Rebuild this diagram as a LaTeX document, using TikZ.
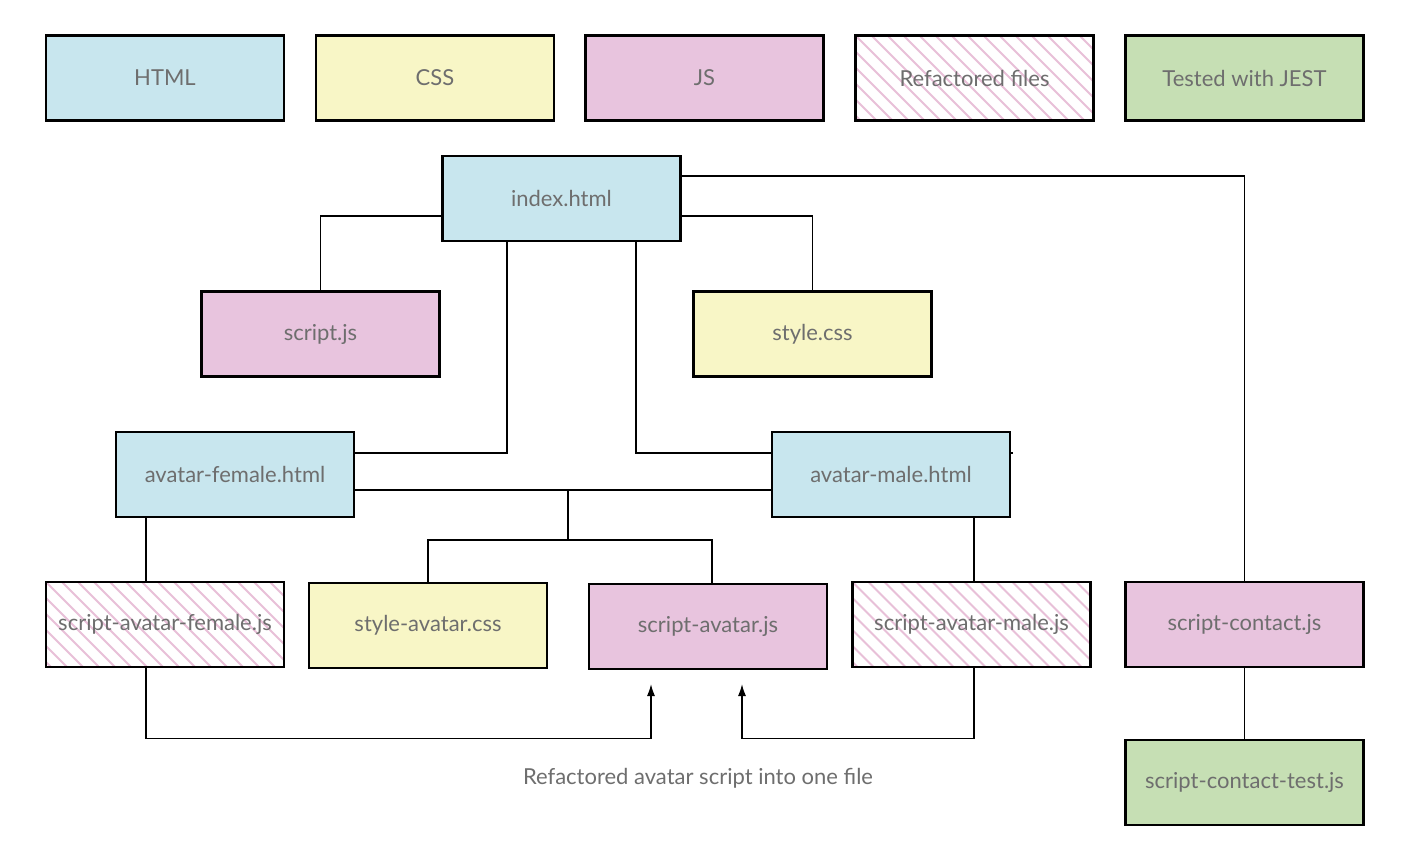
\documentclass[tikz,border=0pt]{standalone}
\usepackage{fontspec}
\setmainfont{Lato}
\usetikzlibrary{arrows.meta,backgrounds}
\definecolor{htmlc}{HTML}{C8E6EE}
\definecolor{cssc}{HTML}{F8F6C6}
\definecolor{jsc}{HTML}{E8C4DE}
\definecolor{testc}{HTML}{C6DFB4}
\definecolor{hatchc}{HTML}{E8C0D8}
\definecolor{txtc}{HTML}{6E6E6E}
\tikzset{
  filebox/.style={draw=black,line width=1.25pt,minimum width=119pt,minimum height=42.5pt,
    inner sep=0pt,text=txtc,font=\fontsize{11}{13}\selectfont},
  htmlbox/.style={filebox,fill=htmlc},
  cssbox/.style={filebox,fill=cssc},
  jsbox/.style={filebox,fill=jsc},
  testbox/.style={filebox,fill=testc},
  hatchbox/.style={filebox,fill=white,path picture={
    \foreach \k in {-6,...,15}{
      \draw[hatchc,line width=1pt] ([xshift=\k*8pt]path picture bounding box.north west) -- ++(45pt,-45pt);}}},
  conn/.style={draw=black,line width=0.75pt},
  arr/.style={conn,-{Latex[length=6pt,width=4pt]}},
}
\begin{document}
\begin{tikzpicture}[x=0.5pt,y=-0.5pt]
\useasboundingbox (0,0) rectangle (1408,862);
% legend
\node[htmlbox] (lhtml) at (165,78) {HTML};
\node[cssbox] (lcss) at (435,78) {CSS};
\node[jsbox] (ljs) at (704.5,78) {JS};
\node[hatchbox] (lref) at (974.5,78) {Refactored files};
\node[testbox] (ltest) at (1244.5,78) {Tested with JEST};
% files
\node[htmlbox] (index) at (561.5,198.5) {index.html};
\node[jsbox] (scriptjs) at (320.5,334) {script.js};
\node[cssbox] (stylecss) at (812.5,334) {style.css};
\node[htmlbox] (female) at (235,474.5) {avatar-female.html};
\node[htmlbox] (male) at (891,474.5) {avatar-male.html};
\node[hatchbox] (safem) at (165,624.5) {script-avatar-female.js};
\node[cssbox] (styleav) at (428,625.5) {style-avatar.css};
\node[jsbox] (scriptav) at (708,626.5) {script-avatar.js};
\node[hatchbox] (samale) at (971.5,624.5) {script-avatar-male.js};
\node[jsbox] (contact) at (1244.5,624.5) {script-contact.js};
\node[testbox] (ctest) at (1244.5,782.5) {script-contact-test.js};
\node[text=txtc,font=\fontsize{11}{13}\selectfont] (note) at (698,778) {Refactored avatar script into one file};
\coordinate (j) at (568,490);
\coordinate (j1) at (568,540);
\coordinate (a1) at (651,684);
\coordinate (a2) at (742,684);
\begin{scope}[on background layer]
\fill[white] (0,0) rectangle (1408,862);
\draw[conn] ([yshift=-8.75pt]index.west) -| (scriptjs.north);
\draw[conn] ([yshift=-8.75pt]index.east) -| (stylecss.north);
\draw[conn] ([yshift=11.25pt]index.east) -| (contact.north);
\draw[conn] ([xshift=-27.25pt]index.south) |- ([yshift=10.75pt]female.east);
\draw[conn] ([xshift=37.25pt]index.south) |- ([yshift=10.75pt,xshift=1pt]male.east);
\draw[conn] ([yshift=-7.75pt]female.east) -- ([yshift=-7.75pt]male.west);
\draw[conn] (j) -- (j1);
\draw[conn] (styleav.north) |- (j1) -| ([xshift=2pt]scriptav.north);
\draw[conn] ([xshift=-44.5pt]female.south) -- ([xshift=-9.5pt]safem.north);
\draw[conn] ([xshift=41.5pt]male.south) -- ([xshift=1.25pt]samale.north);
\draw[conn] (contact.south) -- (ctest.north);
\end{scope}
\draw[arr] ([xshift=-9.5pt]safem.south) -- ++(0,-35pt) -| (a1);
\draw[arr] ([xshift=1.25pt]samale.south) -- ++(0,-35pt) -| (a2);
\end{tikzpicture}
\end{document}
